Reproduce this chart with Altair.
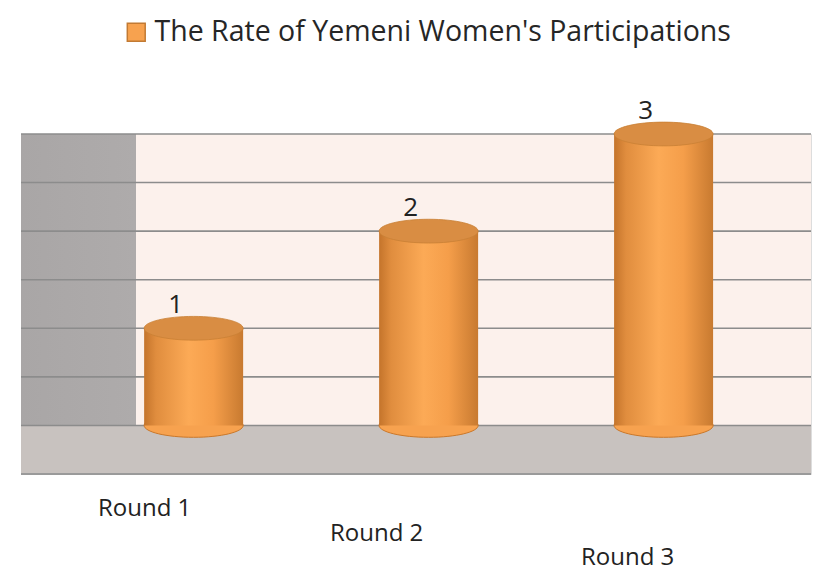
import altair as alt
import pandas as pd

rounds = ["Round 1", "Round 2", "Round 3"]
values = [1, 2, 3]
labels = ["1", "2", "3"]
series = ["The Rate of Yemeni Women's Participations"] * 3
grid_ticks = [0, 0.5, 1, 1.5, 2, 2.5, 3]
floor_range = [-0.5, 0]

df = pd.DataFrame({"round": rounds, "value": values, "label": labels, "series": series})
grid_df = pd.DataFrame({"t": grid_ticks})

FONT = "Open Sans"
ydom = [-0.5, 3]

x_enc = alt.X(
    "round:N", sort=rounds,
    scale=alt.Scale(paddingInner=0.58, paddingOuter=0.471, align=0.557),
    axis=alt.Axis(
        title=None, labelFontSize=24, labelColor="#222222", labelFont=FONT,
        ticks=False, domain=False, labelAngle=0,
        labelPadding={"condition": [
            {"test": "datum.value === 'Round 2'", "value": 47},
            {"test": "datum.value === 'Round 3'", "value": 71}],
            "value": 22},
        labelOffset={"condition": [
            {"test": "datum.value === 'Round 2'", "value": -52},
            {"test": "datum.value === 'Round 3'", "value": -36}],
            "value": -49},
    ),
)

y_scale = alt.Scale(domain=ydom, nice=False, zero=False)

wall_grad = alt.LinearGradient(
    gradient="linear", x1=0, x2=1, y1=0, y2=0,
    stops=[
        alt.GradientStop(offset=0, color="#A9A6A6"),
        alt.GradientStop(offset=0.145, color="#AEABAB"),
        alt.GradientStop(offset=0.146, color="#FCF1EC"),
        alt.GradientStop(offset=1, color="#FCF1EC"),
    ],
)

walls = alt.Chart(alt.Data(values=[{"lo": ydom[0], "hi": ydom[1]}])).mark_rect(color=wall_grad).encode(
    y=alt.Y("hi:Q", scale=y_scale, axis=None),
    y2="lo:Q",
)

floor = alt.Chart(alt.Data(values=[{"a": floor_range[0], "b": floor_range[1]}])).mark_rect(
    color="#C8C2BF"
).encode(
    y=alt.Y("a:Q", scale=y_scale, axis=None),
    y2="b:Q",
)

grid = alt.Chart(grid_df).mark_rule(color="#8C8C8C", strokeWidth=1.6).encode(
    y=alt.Y("t:Q", scale=y_scale, axis=None),
)

front_edge = alt.Chart(alt.Data(values=[{"e": floor_range[0]}])).mark_rule(
    color="#9A9A9A", strokeWidth=2).encode(
    y=alt.Y("e:Q", scale=y_scale, axis=None),
)

ellipse = "M -1 0 A 1 0.24 0 1 0 1 0 A 1 0.24 0 1 0 -1 0 Z"
BW = 99

bottom = alt.Chart(df).mark_point(shape=ellipse, filled=True, size=BW * BW, opacity=1,
                                  stroke="#C9782C", strokeWidth=1).encode(
    x=x_enc,
    y=alt.Y("zero:Q", scale=y_scale, axis=None),
    color=alt.Color("series:N", scale=alt.Scale(range=["#F7A24F"]),
                    legend=alt.Legend(title=None, orient="none", legendX=101, legendY=-116,
                                      symbolType="square", symbolSize=320,
                                      symbolStrokeColor="#C27A33", symbolStrokeWidth=1.5,
                                      labelFontSize=28.5, labelFont=FONT, labelColor="#262626",
                                      labelLimit=900, symbolOpacity=1)),
).transform_calculate(zero="0")

grad = alt.LinearGradient(
    gradient="linear", x1=0, x2=1, y1=0, y2=0,
    stops=[
        alt.GradientStop(offset=0, color="#C4742B"),
        alt.GradientStop(offset=0.12, color="#E08D3E"),
        alt.GradientStop(offset=0.45, color="#FCAA56"),
        alt.GradientStop(offset=0.7, color="#F59E4A"),
        alt.GradientStop(offset=1, color="#C87A30"),
    ],
)

bars = alt.Chart(df).mark_bar(color=grad, size=BW).encode(
    x=x_enc,
    y=alt.Y("value:Q", scale=y_scale, axis=None),
    y2=alt.datum(0),
)

caps = alt.Chart(df).mark_point(shape=ellipse, filled=True, size=BW * BW, opacity=1,
                                color="#D98D43", stroke="#C98035", strokeWidth=0.8).encode(
    x=x_enc,
    y=alt.Y("value:Q", scale=y_scale, axis=None),
)

text = alt.Chart(df).mark_text(fontSize=26, font=FONT, color="#222222", dy=-23, dx=-18).encode(
    x=x_enc,
    y=alt.Y("value:Q", scale=y_scale, axis=None),
    text="label:N",
)

chart = alt.layer(walls, floor, grid, front_edge, bottom, bars, caps, text).properties(
    width=790, height=340,
    padding={"left": 12, "top": 10, "right": 0, "bottom": 30},
).configure_view(stroke=None).configure(background="white")

chart.save("out.html", embed_options={"renderer": "svg", "actions": False})
